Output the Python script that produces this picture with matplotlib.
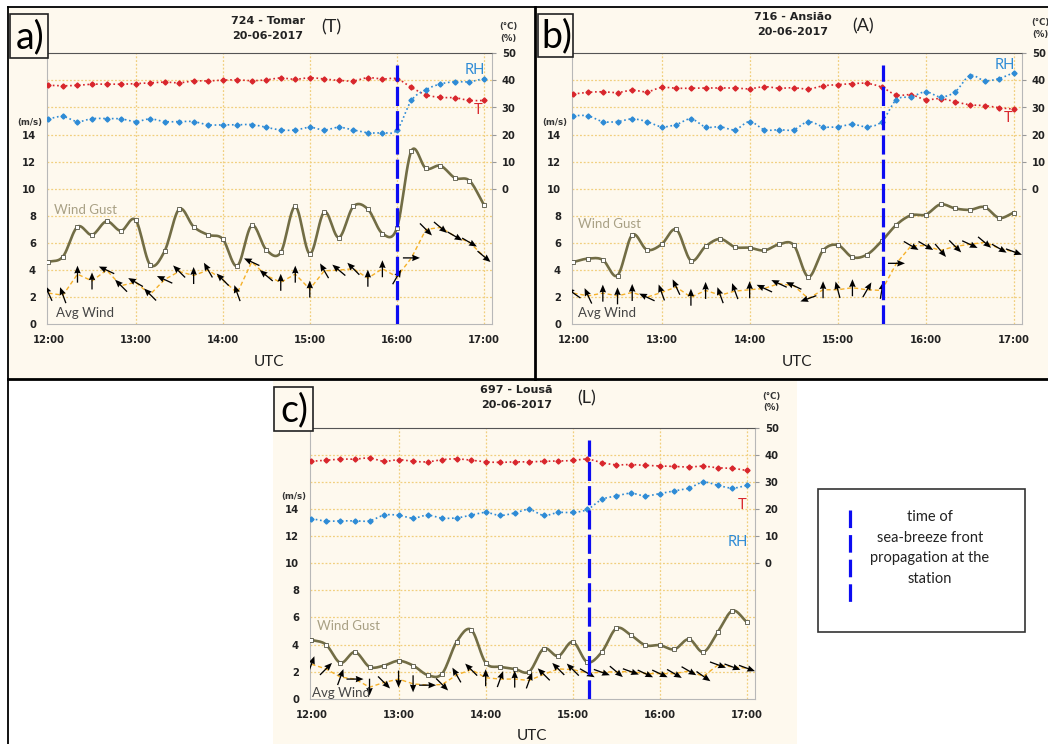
import numpy as np
import matplotlib
matplotlib.use("Agg")
import matplotlib.pyplot as plt
from matplotlib.patches import Rectangle
from matplotlib.lines import Line2D

# time axis: minutes after 12:00 UTC, 10-min records
minutes = list(range(0, 301, 10))
hour_ticks = [0, 60, 120, 180, 240, 300]
hour_labels = ["12:00", "13:00", "14:00", "15:00", "16:00", "17:00"]

# ---- a) 724 - Tomar
a_temp = [38.2, 38.0, 38.2, 38.6, 38.6, 38.6, 38.8, 39.1, 39.4, 39.1, 39.8, 39.8, 40.1, 40.2, 39.9, 40.2,
          40.9, 40.4, 41.0, 40.5, 40.0, 39.8, 41.0, 40.5, 40.6, 37.4, 34.7, 33.7, 33.6, 32.6, 32.6]
a_rh = [25.8, 26.7, 24.8, 25.9, 25.9, 25.8, 24.8, 25.8, 24.8, 24.8, 24.8, 23.6, 23.6, 23.6, 23.7, 22.7,
        21.7, 21.7, 22.7, 21.7, 22.7, 21.7, 20.7, 20.7, 21.6, 32.6, 36.6, 38.7, 39.5, 39.5, 40.7]
a_gust = [4.6, 5.0, 7.2, 6.6, 7.6, 6.9, 7.7, 4.4, 5.4, 8.5, 7.2, 6.6, 6.3, 4.3, 7.3, 5.5,
          5.3, 8.7, 5.2, 8.3, 6.4, 8.7, 8.5, 6.7, 7.1, 12.8, 11.5, 11.7, 10.8, 10.6, 8.8]
a_wind = [2.3, 2.15, 3.7, 3.2, 4.0, 2.85, 3.1, 2.2, 3.3, 3.9, 3.6, 4.0, 3.3, 2.3, 4.6, 3.6,
          3.1, 3.7, 2.6, 3.95, 4.0, 4.1, 3.4, 4.1, 3.5, 4.9, 7.0, 7.15, 6.5, 6.05, 5.0]
a_dir = [115, 110, 90, 90, 155, 135, 150, 135, 155, 135, 90, 120, 135, 110, 155, 140,
         90, 90, 90, 120, 140, 135, 90, 90, 60, 0, -45, -40, -30, -30, -40]
a_front = 240

# ---- b) 716 - Ansião
b_temp = [35.0, 35.6, 35.8, 35.5, 36.4, 35.8, 37.4, 37.1, 37.1, 37.2, 37.2, 37.2, 36.9, 37.7, 37.1, 37.3,
          36.8, 38.0, 38.4, 38.8, 38.9, 37.5, 34.6, 34.7, 32.9, 33.3, 32.1, 31.0, 30.7, 29.9, 29.4]
b_rh = [27.0, 26.9, 24.8, 24.8, 25.8, 24.8, 22.9, 23.7, 25.8, 22.8, 22.9, 21.8, 24.8, 21.8, 21.8, 21.8,
        24.8, 22.9, 22.9, 23.8, 22.9, 24.8, 32.9, 33.9, 35.8, 33.9, 35.8, 41.8, 39.9, 40.7, 42.9]
b_gust = [4.6, 4.85, 4.75, 3.6, 6.6, 5.5, 5.9, 7.0, 4.7, 5.75, 6.3, 5.7, 5.65, 5.45, 5.9, 5.85,
          3.5, 5.45, 5.85, 4.95, 5.15, 6.15, 7.35, 8.05, 8.1, 8.85, 8.55, 8.45, 8.65, 7.85, 8.25]
b_wind = [2.3, 2.1, 2.3, 2.1, 2.35, 2.0, 2.35, 2.75, 2.0, 2.5, 2.15, 2.45, 2.55, 2.65, 3.0, 2.85,
          1.9, 2.55, 2.55, 2.7, 2.55, 2.5, 4.5, 5.8, 5.8, 5.45, 5.75, 5.9, 6.05, 5.6, 5.35]
b_dir = [145, 115, 90, 90, 90, 155, 110, 115, 90, 90, 110, 110, 90, 155, 155, 155,
         200, 90, 105, 90, 60, 80, 0, -30, -30, -50, -45, -25, -40, -30, -20]
b_front = 211

# ---- c) 697 - Lousã
c_temp = [37.7, 38.1, 38.5, 38.5, 38.9, 37.7, 38.3, 37.7, 37.5, 38.3, 38.6, 38.1, 37.5, 37.3, 37.5, 37.5,
          37.7, 37.8, 38.0, 38.5, 37.2, 36.4, 36.5, 36.2, 36.0, 35.8, 35.6, 35.9, 35.3, 35.1, 34.3]
c_rh = [16.5, 15.6, 15.7, 15.7, 15.7, 17.8, 17.8, 16.7, 17.8, 16.7, 16.8, 17.8, 18.8, 17.7, 18.6, 19.9,
        17.7, 18.8, 18.8, 19.9, 23.6, 24.9, 25.9, 24.9, 25.8, 26.8, 27.8, 30.0, 28.8, 27.8, 28.8]
c_gust = [4.35, 4.0, 2.65, 3.45, 2.35, 2.45, 2.8, 2.45, 1.75, 1.85, 4.2, 5.1, 2.65, 2.35, 2.2, 2.0,
          3.7, 3.15, 4.2, 2.7, 3.45, 5.2, 4.7, 3.95, 3.95, 3.65, 4.4, 3.45, 4.95, 6.5, 5.65]
c_wind = [2.55, 2.2, 1.6, 1.45, 0.85, 1.2, 1.45, 1.1, 1.0, 1.05, 1.75, 2.15, 1.55, 1.45, 1.45, 1.35,
          1.8, 2.2, 2.15, 1.9, 1.95, 2.0, 2.0, 1.85, 1.85, 1.85, 2.05, 1.65, 2.5, 2.35, 2.25]
c_dir = [70, 45, 70, 0, -90, -45, -90, -90, 0, -45, 120, 135, 90, 70, 90, 70,
         135, 135, 135, -30, -20, -40, -20, -25, -25, -30, -30, -35, -20, -20, -20]
c_front = 191

W, H = 1048, 744
CREAM = "#fef9ee"
GUST = "#726d45"
TEMP = "#d8262c"
RH = "#2e8bd6"
WIND = "#f5b12a"
FRONT = "#0c0cf2"
GRID = "#f1cf7e"

fig = plt.figure(figsize=(W / 100, H / 100), dpi=100)
fig.patch.set_facecolor("white")


def fx(x):
    return x / W


def fy(y):
    return 1 - y / H


def box(x0, y0, x1, y1, **kw):
    fig.add_artist(Rectangle((fx(x0), fy(y1)), fx(x1) - fx(x0), fy(y0) - fy(y1),
                             transform=fig.transFigure, **kw))


def line(xs, ys, **kw):
    fig.add_artist(Line2D([fx(v) for v in xs], [fy(v) for v in ys], transform=fig.transFigure, **kw))


def smooth(x, y, n=12):
    x = np.asarray(x, float)
    y = np.asarray(y, float)
    px = np.concatenate([[2 * x[0] - x[1]], x, [2 * x[-1] - x[-2]]])
    py = np.concatenate([[2 * y[0] - y[1]], y, [2 * y[-1] - y[-2]]])
    s = np.linspace(0, 1, n, endpoint=False)
    ox, oy = [], []
    for i in range(1, len(px) - 2):
        for arr, out in ((px, ox), (py, oy)):
            p0, p1, p2, p3 = arr[i - 1:i + 3]
            out.extend(0.5 * (2 * p1 + (-p0 + p2) * s + (2 * p0 - 5 * p1 + 4 * p2 - p3) * s ** 2
                              + (-p0 + 3 * p1 - 3 * p2 + p3) * s ** 3))
    ox.append(x[-1])
    oy.append(y[-1])
    return ox, oy


# panel backgrounds and frames (behind the axes)
box(8, 7, 534, 379, facecolor=CREAM, edgecolor="none", zorder=-5)
box(535, 7, 1048, 379, facecolor=CREAM, edgecolor="none", zorder=-5)
box(273, 381, 797, 744, facecolor=CREAM, edgecolor="none", zorder=-5)
line([8, 1048], [7, 7], color="black", lw=1.3)
line([8, 8], [7, 744], color="black", lw=1.3)
line([534.5, 534.5], [7, 379], color="black", lw=2)
line([8, 1048], [379, 379], color="black", lw=2)


def panel(x0, y0, x1, y1, gust, wind, wdir, temp, rh, front, labels):
    ax = fig.add_axes([fx(x0), fy(y1), fx(x1) - fx(x0), fy(y0) - fy(y1)])
    ax.set_facecolor(CREAM)
    ax.set_xlim(-1, 305.5)
    ax.set_ylim(0, 20)
    for v in range(2, 20, 2):
        ax.axhline(v, color=GRID, lw=0.9, ls=(0, (1.5, 1.5)), zorder=0)
    for v in hour_ticks[1:]:
        ax.axvline(v, color=GRID, lw=0.9, ls=(0, (1.5, 1.5)), zorder=0)
    for sp in ax.spines.values():
        sp.set_color("#b8b8b8")
        sp.set_linewidth(0.8)
    ax.spines["top"].set_color("#555555")
    ax.set_xticks(hour_ticks)
    ax.set_xticklabels(hour_labels, fontsize=7.2, fontweight="bold", color="#222222")
    ax.set_yticks(range(0, 15, 2))
    ax.set_yticklabels([str(v) for v in range(0, 15, 2)], fontsize=7.2, fontweight="bold", color="#222222")
    ax.tick_params(axis="x", length=0, pad=8)
    ax.tick_params(axis="y", length=0, pad=8)

    sx, sy = smooth(minutes, gust)
    ax.plot(sx, sy, color=GUST, lw=1.9, zorder=3)
    ax.plot(minutes, gust, ls="none", marker="s", ms=3, mfc="white", mec="#555544", mew=0.6, zorder=4)
    ax.plot(minutes, wind, color=WIND, lw=1.0, ls=(0, (3, 2)), zorder=3)
    rad = np.deg2rad(wdir)
    ax.quiver(minutes, wind, np.cos(rad), np.sin(rad), angles="uv", scale_units="dots", scale=1 / 17,
              units="dots", width=1.3, headwidth=5, headlength=6, headaxislength=5.5,
              pivot="middle", color="black", zorder=5)

    ax2 = ax.twinx()
    ax2.set_ylim(-50, 50)
    ax2.set_yticks(range(0, 51, 10))
    ax2.set_yticklabels([str(v) for v in range(0, 51, 10)], fontsize=7.2, fontweight="bold", color="#222222")
    ax2.tick_params(axis="y", length=3, color="#999999", pad=4)
    for sp in ax2.spines.values():
        sp.set_visible(False)
    tx, ty = smooth(minutes, temp, 6)
    ax2.plot(tx, ty, color=TEMP, lw=1.2, ls=(0, (1, 1.6)), zorder=3)
    ax2.plot(minutes, temp, ls="none", marker="D", ms=2.6, color=TEMP, zorder=4)
    rx, ry = smooth(minutes, rh, 6)
    ax2.plot(rx, ry, color=RH, lw=1.2, ls=(0, (1, 1.6)), zorder=3)
    ax2.plot(minutes, rh, ls="none", marker="D", ms=2.6, color=RH, zorder=4)
    ax2.plot([front, front], [-50, 45.5], color=FRONT, lw=2.3, ls=(0, (6, 1.6)), zorder=6)

    lab = "Lato"
    ax.text(labels["gust"][0], labels["gust"][1], "Wind Gust", color="#a8a084", fontsize=9.5,
            family=lab, va="center", ha="left", zorder=6)
    ax.text(labels["avg"][0], labels["avg"][1], "Avg Wind", color="#454545", fontsize=9.5,
            family=lab, va="center", ha="left", zorder=6)
    ax2.text(labels["rh"][0], labels["rh"][1], "RH", color=RH, fontsize=10.5, family=lab,
             va="center", ha="center", zorder=6)
    ax2.text(labels["t"][0], labels["t"][1], "T", color=TEMP, fontsize=10.5, family=lab,
             va="center", ha="center", zorder=6)
    return ax


panel(47, 53.3, 492, 324.3, a_gust, a_wind, a_dir, a_temp, a_rh, a_front,
      {"gust": (4, 8.4), "avg": (5, 0.85), "rh": (294, 43.8), "t": (296, 29.2)})
panel(572, 53.3, 1022, 324.3, b_gust, b_wind, b_dir, b_temp, b_rh, b_front,
      {"gust": (3, 7.4), "avg": (3, 0.8), "rh": (294, 45.6), "t": (296, 26.1)})
panel(310, 428, 755, 698.7, c_gust, c_wind, c_dir, c_temp, c_rh, c_front,
      {"gust": (3.5, 5.4), "avg": (0.5, 0.4), "rh": (294, 8.0), "t": (296.5, 21.6)})

# titles, unit labels, panel letters
titles = [("724 - Tomar", "(T)", 268, 20.7, 331.7, 27, 508, 30, 122.7, 361.7, 269),
          ("716 - Ansião", "(A)", 793, 16.5, 863, 26, 1040, 555, 122.7, 361.7, 797),
          ("697 - Lousã", "(L)", 516.7, 390, 586.7, 398, 771.7, 293.3, 496.3, 736, 532)]
for name, code, tx, ty, cx, cy, ux, mx, my, uy, utx in titles:
    fig.text(fx(tx), fy(ty), name, ha="center", va="center", fontsize=8, fontweight="bold", color="#222222")
    fig.text(fx(tx), fy(ty + 15.3), "20-06-2017", ha="center", va="center", fontsize=8,
             fontweight="bold", color="#222222")
    fig.text(fx(cx), fy(cy), code, ha="center", va="center", fontsize=13, family="Lato", color="#222222")
    fig.text(fx(ux), fy(ty + 6), "(°C)", ha="center", va="center", fontsize=6.2, fontweight="bold", color="#333333")
    fig.text(fx(ux), fy(ty + 17.5), "(%)", ha="center", va="center", fontsize=6.2, fontweight="bold", color="#333333")
    fig.text(fx(mx), fy(my), "(m/s)", ha="center", va="center", fontsize=6.2, fontweight="bold", color="#333333")
    fig.text(fx(utx), fy(uy), "UTC", ha="center", va="center", fontsize=11, family="Lato", color="#222222")

for letter, x0, y0, x1, y1 in [("a)", 10, 14, 48, 58), ("b)", 538, 14, 573, 57), ("c)", 274, 387, 313, 431)]:
    box(x0, y0, x1, y1, facecolor=CREAM, edgecolor="#222222", lw=1.2)
    fig.text(fx((x0 + x1) / 2 + 1), fy((y0 + y1) / 2 + 1), letter, ha="center", va="center",
             fontsize=27, family="Lato", color="black")

# legend box
box(818, 489, 1025, 632, facecolor="white", edgecolor="#333333", lw=1.2)
line([850, 850], [510, 606], color=FRONT, lw=2.3, ls=(0, (5.5, 2.2)))
for txt, yy in [("time of", 517), ("sea-breeze front", 537.5), ("propagation at the", 558), ("station", 579)]:
    fig.text(fx(930), fy(yy), txt, ha="center", va="center", fontsize=10.5, family="Lato", color="#222222")

fig.savefig("out.png", dpi=100, facecolor="white")
